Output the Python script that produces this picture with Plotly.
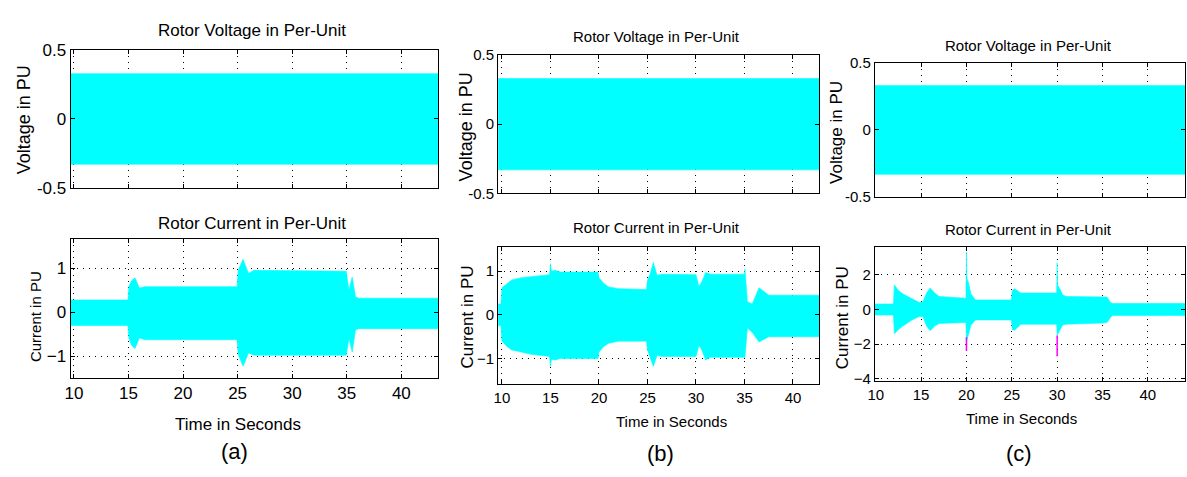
import plotly.graph_objects as go

# ---------------- data ----------------
# Rotor voltage envelope (constant amplitude) for each case
volt_t_a = [9.7, 43.4]
volt_t_b = [9.6, 42.7]
volt_t_c = [9.9, 44.1]
volt_upper = [0.33, 0.33]
volt_lower = [-0.33, -0.33]

# Rotor current envelope, case (a)
cur_t_a = [9.7, 14.95, 15.05, 15.3, 15.6, 16.0, 16.5, 24.95, 25.05, 25.5, 26.0, 26.5,
           34.95, 35.2, 35.5, 35.8, 36.1, 43.4]
cur_up_a = [0.28, 0.28, 0.6, 0.72, 0.78, 0.55, 0.58, 0.58, 0.95, 1.2, 0.88, 0.95,
            0.93, 0.5, 0.8, 0.35, 0.32, 0.32]
cur_lo_a = [-0.3, -0.3, -0.6, -0.75, -0.82, -0.58, -0.62, -0.62, -0.95, -1.22, -0.92, -0.97,
            -0.97, -0.6, -0.9, -0.4, -0.37, -0.37]

# Rotor current envelope, case (b)
cur_t_b = [9.6, 9.9, 10.0, 10.5, 11, 12, 13, 14.9, 15.0, 15.1, 15.5, 16, 19.9, 20.0, 20.5,
           21, 22, 24.9, 25.0, 25.3, 25.6, 26, 26.5, 30.0, 30.3, 30.6, 31.0, 31.5, 35.0,
           35.05, 35.3, 35.8, 36.5, 37.5, 42.7]
cur_up_b = [0.25, 0.25, 0.62, 0.72, 0.8, 0.85, 0.88, 0.92, 1.17, 1.0, 1.02, 0.98, 0.98, 0.85,
            0.72, 0.64, 0.6, 0.58, 0.8, 0.95, 1.2, 0.9, 0.93, 0.92, 0.65, 0.75, 0.97, 0.93,
            0.93, 1.05, 0.3, 0.25, 0.62, 0.45, 0.45]
cur_lo_b = [-0.25, -0.25, -0.6, -0.72, -0.8, -0.85, -0.9, -0.95, -1.18, -1.02, -1.03, -1.0,
            -1.0, -0.85, -0.72, -0.65, -0.6, -0.6, -0.8, -0.98, -1.18, -0.92, -0.95, -0.95,
            -0.7, -0.8, -1.03, -0.97, -0.97, -0.97, -0.3, -0.4, -0.62, -0.5, -0.5]

# Rotor current envelope, case (c)
cur_t_c = [9.9, 11.95, 12.05, 12.5, 13, 14, 14.8, 15.2, 15.6, 16.0, 16.5, 17, 19.95, 20.0,
           20.05, 20.2, 20.5, 21, 24.95, 25.05, 25.3, 26, 29.95, 30.0, 30.05, 30.2, 30.6,
           31, 35.0, 35.5, 35.9, 36.1, 44.1]
cur_up_c = [0.32, 0.32, 1.43, 1.1, 0.9, 0.63, 0.4, 0.45, 0.95, 1.24, 0.95, 0.75, 0.65, 3.3,
            1.8, 1.6, 0.9, 0.55, 0.55, 1.1, 1.2, 0.95, 0.95, 2.7, 1.4, 1.3, 0.85, 0.75,
            0.72, 0.72, 0.4, 0.35, 0.35]
cur_lo_c = [-0.32, -0.32, -1.4, -1.15, -0.95, -0.6, -0.4, -0.4, -0.95, -1.22, -0.95, -0.8,
            -0.75, -1.9, -1.9, -1.6, -0.9, -0.6, -0.6, -1.15, -1.2, -0.85, -0.85, -1.5,
            -1.5, -1.3, -0.9, -0.85, -0.78, -0.75, -0.45, -0.35, -0.35]

# magenta negative spikes in case (c)
spike_t_c = [20.0, 30.0]
spike_from_c = [-1.6, -1.5]
spike_to_c = [-2.4, -2.7]

x_ticks = [10, 15, 20, 25, 30, 35, 40]
volt_ticks = [-0.5, 0, 0.5]
volt_ticklabels = ["-0.5", "0", "0.5"]
cur_ticks_ab = [-1, 0, 1]
cur_ticks_c = [-4, -2, 0, 2]

# ---------------- layout helpers ----------------
W, H = 1187, 477
CYAN = "#00FFFF"
FONT = "Liberation Sans, Arial, sans-serif"


def dx(a, b):
    return [a / W, b / W]


def dy(top, bottom):
    return [1 - bottom / H, 1 - top / H]


def band(t, up, lo, xa, ya):
    return go.Scatter(x=list(t) + list(t)[::-1], y=list(up) + list(lo)[::-1],
                      fill="toself", fillcolor=CYAN, mode="lines",
                      line=dict(width=0.6, color=CYAN), xaxis=xa, yaxis=ya,
                      hoverinfo="skip", showlegend=False)


fig = go.Figure()

panels = [
    dict(xp=(64, 434), top=(43, 186), bot=(240, 384), xr=[9.7, 43.4], cyr=[-1.48, 1.65],
         cticks=cur_ticks_ab, tfs=17, vt=volt_t_a, ct=cur_t_a, cu=cur_up_a, cl=cur_lo_a),
    dict(xp=(494, 817), top=(48, 192), bot=(248, 391), xr=[9.6, 42.7], cyr=[-1.59, 1.55],
         cticks=cur_ticks_ab, tfs=15, vt=volt_t_b, ct=cur_t_b, cu=cur_up_b, cl=cur_lo_b),
    dict(xp=(873, 1185), top=(56, 196), bot=(248, 387), xr=[9.9, 44.1], cyr=[-4.1, 3.6],
         cticks=cur_ticks_c, tfs=15, vt=volt_t_c, ct=cur_t_c, cu=cur_up_c, cl=cur_lo_c),
]

common = dict(showline=True, linecolor="black", linewidth=1, mirror="allticks",
              ticks="inside", ticklen=4, tickcolor="black", showgrid=True,
              gridcolor="black", griddash="1px,5px", gridwidth=1, zeroline=False)

layout = dict(width=W, height=H, margin=dict(l=0, r=0, t=0, b=0),
              paper_bgcolor="white", plot_bgcolor="white", showlegend=False,
              font=dict(family=FONT, color="black"))

for i, p in enumerate(panels):
    n_top = 2 * i + 1
    n_bot = 2 * i + 2
    xt = "x" if n_top == 1 else f"x{n_top}"
    yt = "y" if n_top == 1 else f"y{n_top}"
    xb, yb = f"x{n_bot}", f"y{n_bot}"
    fig.add_trace(band(p["vt"], volt_upper, volt_lower, xt, yt))
    fig.add_trace(band(p["ct"], p["cu"], p["cl"], xb, yb))
    kxt = "xaxis" if n_top == 1 else f"xaxis{n_top}"
    kyt = "yaxis" if n_top == 1 else f"yaxis{n_top}"
    tf = dict(size=p["tfs"], family=FONT, color="black")
    layout[kxt] = dict(domain=dx(*p["xp"]), range=p["xr"], anchor=yt, tickvals=x_ticks,
                       showticklabels=False, **common)
    layout[kyt] = dict(domain=dy(*p["top"]), range=[-0.5, 0.5], anchor=xt,
                       tickvals=volt_ticks, ticktext=volt_ticklabels, tickfont=tf, **common)
    layout[f"xaxis{n_bot}"] = dict(domain=dx(*p["xp"]), range=p["xr"], anchor=yb,
                                   tickvals=x_ticks, tickfont=tf, **common)
    layout[f"yaxis{n_bot}"] = dict(domain=dy(*p["bot"]), range=p["cyr"], anchor=xb,
                                   tickvals=p["cticks"], tickfont=tf, **common)

# magenta spikes (c)
sx, sy = [], []
for t, a, b in zip(spike_t_c, spike_from_c, spike_to_c):
    sx += [t, t, None]
    sy += [a, b, None]
fig.add_trace(go.Scatter(x=sx, y=sy, mode="lines", line=dict(color="#FF00FF", width=1.5),
                         xaxis="x6", yaxis="y6", hoverinfo="skip", showlegend=False))

fig.update_layout(**layout)


def txt(s, x, y, size, angle=0):
    fig.add_annotation(text=s, x=x / W, y=1 - y / H, xref="paper", yref="paper",
                       showarrow=False, xanchor="center", yanchor="middle",
                       textangle=angle, font=dict(size=size, family=FONT, color="black"))


# titles
txt("Rotor Voltage in Per-Unit", 246, 22, 17)
txt("Rotor Current in Per-Unit", 246, 223, 17)
txt("Rotor Voltage in Per-Unit", 653, 29, 15)
txt("Rotor Current in Per-Unit", 653, 228, 15)
txt("Rotor Voltage in Per-Unit", 1028, 38, 15)
txt("Rotor Current in Per-Unit", 1028, 230, 15)
# x titles
txt("Time in Seconds", 232, 433, 17)
txt("Time in Seconds", 668, 430, 15)
txt("Time in Seconds", 1021, 427, 15)
# y titles
txt("Voltage in PU", 18, 115, 18, -90)
txt("Current in PU", 28, 320, 15, -90)
txt("Voltage in PU", 462, 123, 18, -90)
txt("Current in PU", 463, 321, 17, -90)
txt("Voltage in PU", 835, 129, 17, -90)
txt("Current in PU", 840, 322, 17, -90)
# panel labels
txt("(a)", 229, 461, 22)
txt("(b)", 657, 463, 22)
txt("(c)", 1018, 463, 22)

fig.write_html("out.html")
